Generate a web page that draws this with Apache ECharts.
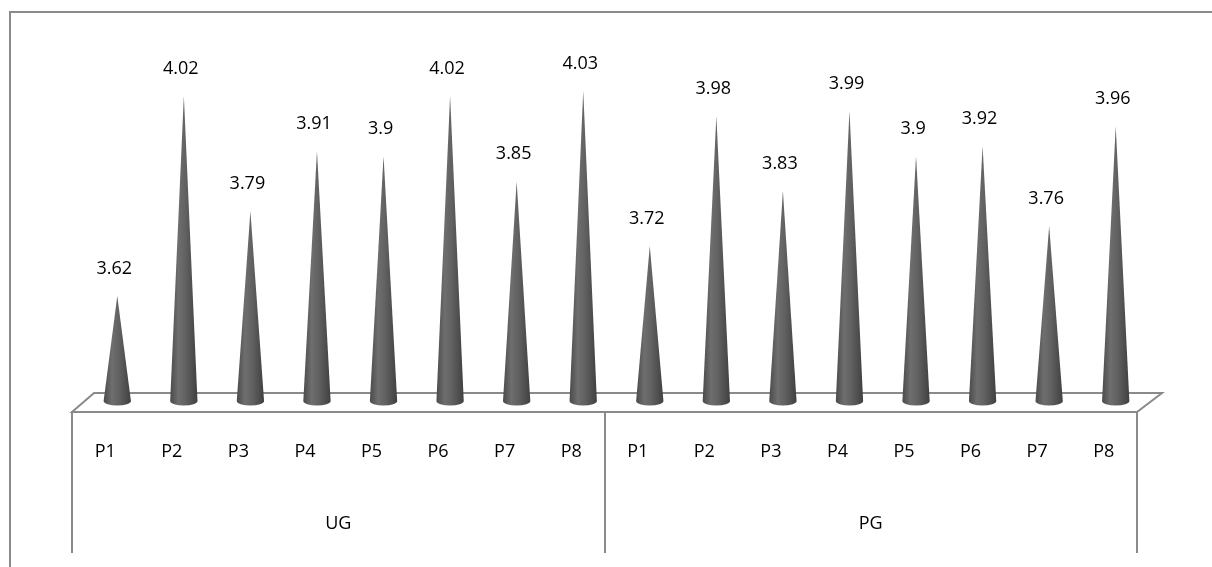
<!DOCTYPE html>
<html>
<head>
<meta charset="utf-8">
<title>UG / PG cone chart</title>
<script src="https://cdn.jsdelivr.net/npm/echarts@6/dist/echarts.min.js"></script>
<style>
  html, body { margin: 0; padding: 0; background: #ffffff; }
  #chart { width: 1212px; height: 567px; }
</style>
</head>
<body>
<div id="chart"></div>
<script>
// Item labels along the floor, repeated for each group
const categories = ['P1', 'P2', 'P3', 'P4', 'P5', 'P6', 'P7', 'P8',
                    'P1', 'P2', 'P3', 'P4', 'P5', 'P6', 'P7', 'P8'];
const groups = ['UG', 'PG'];

// Mean scores per item
const ugValues = [3.62, 4.02, 3.79, 3.91, 3.90, 4.02, 3.85, 4.03];
const pgValues = [3.72, 3.98, 3.83, 3.99, 3.90, 3.92, 3.76, 3.96];

// Value axis range (floor level and top)
const valueMin = 3.41;
const valueMax = 4.20;

const allValues = ugValues.concat(pgValues);
const coneData = allValues.map((v, i) => [i, v]);

// Layout of the floor box
const floorLeft = 72, floorRight = 1137, floorFront = 412;
const depthX = 22, depthY = 19;
const coneShift = 12;     // cones stand in the middle of the floor's depth
const coneBase = 401;
const lineGray = '#8a8a8a';
const font = '"Open Sans", "Noto Sans", sans-serif';
const fontSize = 18;

const chart = echarts.init(document.getElementById('chart'), null, { renderer: 'canvas' });

function renderCone(params, api) {
  const idx = api.value(0);
  const val = api.value(1);
  const tip = api.coord([idx, val]);
  const base = api.coord([idx, valueMin]);
  const w = api.size([1, 0])[0] * 0.41;
  const hw = w / 2;
  const ry = 4.5;
  const cx = tip[0];
  const path =
    'M' + (cx - hw) + ',' + base[1] +
    ' L' + cx + ',' + tip[1] +
    ' L' + (cx + hw) + ',' + base[1] +
    ' A' + hw + ',' + ry + ' 0 0 1 ' + (cx - hw) + ',' + base[1] + ' Z';
  return {
    type: 'group',
    children: [
      {
        type: 'path',
        shape: { pathData: path },
        style: {
          fill: new echarts.graphic.LinearGradient(0, 0, 1, 0, [
            { offset: 0, color: '#4a4a4a' },
            { offset: 0.3, color: '#6e6e6e' },
            { offset: 0.55, color: '#626262' },
            { offset: 1, color: '#404040' }
          ])
        }
      },
      {
        type: 'text',
        x: cx - 3,
        y: tip[1] - 27,
        style: {
          text: String(val),
          fill: '#000000',
          font: fontSize + 'px ' + font,
          align: 'center',
          verticalAlign: 'middle'
        }
      }
    ]
  };
}

const option = {
  backgroundColor: '#ffffff',
  animation: false,
  grid: [
    // cones
    { left: floorLeft + coneShift, right: 1212 - floorRight - coneShift,
      top: coneBase - (valueMax - valueMin) * 500, bottom: 567 - coneBase },
    // floor and category labels
    { left: floorLeft, right: 1212 - floorRight, top: 300, bottom: 567 - floorFront }
  ],
  xAxis: [
    {
      gridIndex: 0, type: 'category', data: categories,
      axisLine: { show: false }, axisTick: { show: false }, axisLabel: { show: false }
    },
    {
      gridIndex: 1, type: 'category', data: categories, position: 'bottom',
      axisLine: { show: true, lineStyle: { color: lineGray, width: 2 } },
      axisTick: { show: false },
      axisLabel: {
        interval: 0, margin: 31, color: '#000000',
        fontFamily: font, fontSize: fontSize, lineHeight: 18
      }
    },
    {
      gridIndex: 1, type: 'category', data: groups, position: 'bottom',
      axisLine: { show: false },
      axisTick: { show: true, interval: 0, length: 141, inside: false,
                  lineStyle: { color: lineGray, width: 2 } },
      axisLabel: {
        interval: 0, margin: 103, color: '#000000',
        fontFamily: font, fontSize: fontSize, lineHeight: 18
      }
    }
  ],
  yAxis: [
    { gridIndex: 0, type: 'value', min: valueMin, max: valueMax, show: false },
    { gridIndex: 1, type: 'value', show: false }
  ],
  graphic: [
    // chart area border
    { type: 'polyline', z: 1, silent: true,
      shape: { points: [[10, 567], [10, 12], [1212, 12]] },
      style: { stroke: lineGray, lineWidth: 2, fill: null } },
    // floor top face
    { type: 'polygon', z: 1, silent: true,
      shape: { points: [
        [floorLeft, floorFront],
        [floorLeft + depthX, floorFront - depthY],
        [floorRight + depthX + 3, floorFront - depthY],
        [floorRight, floorFront]
      ] },
      style: { stroke: lineGray, lineWidth: 2, fill: '#ffffff' } }
  ],
  series: [
    {
      type: 'custom',
      xAxisIndex: 0, yAxisIndex: 0,
      z: 10,
      renderItem: renderCone,
      data: coneData,
      clip: false
    }
  ]
};

chart.setOption(option);
</script>
</body>
</html>
